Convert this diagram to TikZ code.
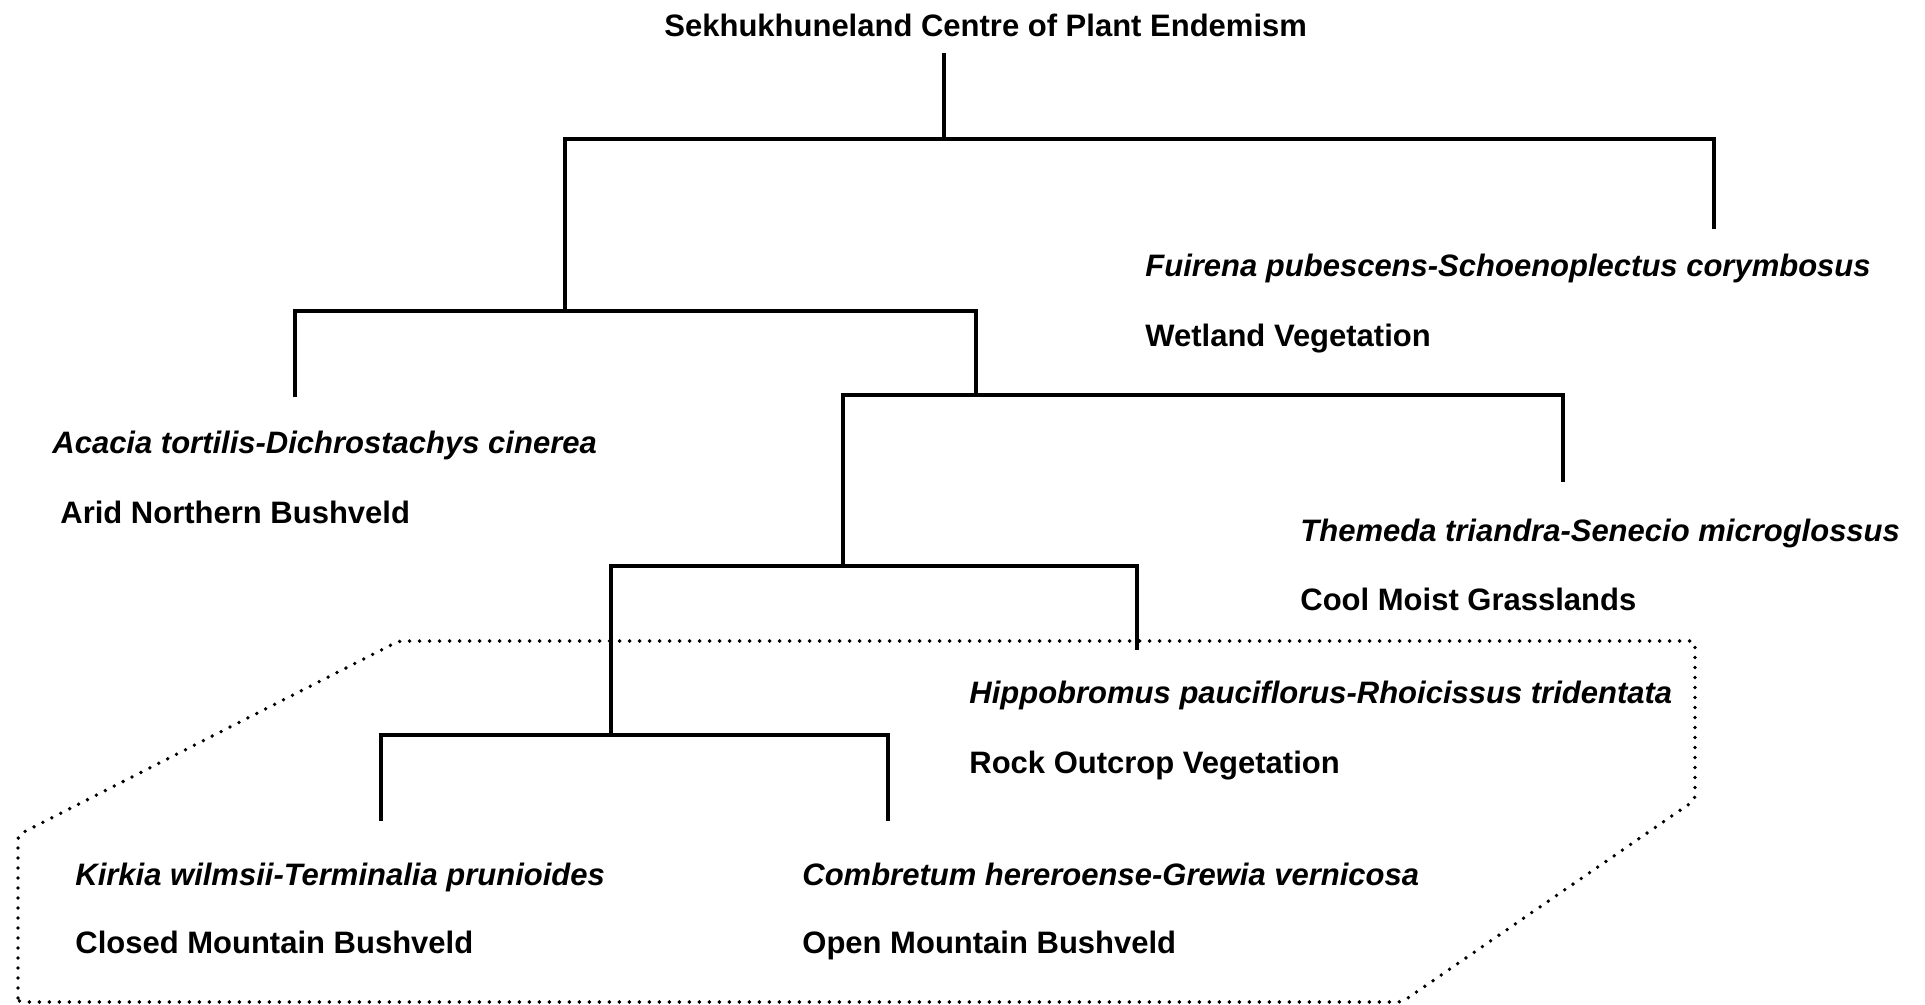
\documentclass[tikz,border=0pt]{standalone}
\usepackage{fontspec}
\setmainfont{Liberation Sans}
\begin{document}
\begin{tikzpicture}[x=0.5pt,y=-0.5pt,
  lbl/.style={anchor=base west,inner sep=0pt,font=\fontsize{15.5}{18}\selectfont\bfseries},
  sp/.style={lbl,font=\fontsize{15.5}{18}\selectfont\bfseries\itshape},
  tree/.style={line width=1.7pt,line cap=rect},
  zone/.style={line width=1.9pt,line cap=round,dash pattern=on 0pt off 5pt,rounded corners=2pt}]
\useasboundingbox (0,0) rectangle (1925,1005);
% labels
\node[lbl] (title) at (664,37) {Sekhukhuneland Centre of Plant Endemism};
\node[sp]  (fui)  at (1145,277) {Fuirena pubescens-Schoenoplectus corymbosus};
\node[lbl] (wet)  at (1145,347) {Wetland Vegetation};
\node[sp]  (aca)  at (52,453) {Acacia tortilis-Dichrostachys cinerea};
\node[lbl] (arid) at (60,523) {Arid Northern Bushveld};
\node[sp]  (the)  at (1300,541) {Themeda triandra-Senecio microglossus};
\node[lbl] (cool) at (1300,610) {Cool Moist Grasslands};
\node[sp]  (hip)  at (969,703) {Hippobromus pauciflorus-Rhoicissus tridentata};
\node[lbl] (rock) at (969,773) {Rock Outcrop Vegetation};
\node[sp]  (kir)  at (75,885) {Kirkia wilmsii-Terminalia prunioides};
\node[lbl] (clo)  at (75,953) {Closed Mountain Bushveld};
\node[sp]  (com)  at (802,885) {Combretum hereroense-Grewia vernicosa};
\node[lbl] (opn)  at (802,953) {Open Mountain Bushveld};
% tree coordinates
\coordinate (r0) at (944,55);
\coordinate (r1) at (944,139);
\coordinate (a1) at (565,139);
\coordinate (b1) at (1714,139);
\coordinate (wtop) at (1714,227);
\coordinate (a2) at (565,311);
\coordinate (l2) at (295,311);
\coordinate (r2) at (976,311);
\coordinate (atop) at (295,395);
\coordinate (c3) at (976,395);
\coordinate (l3) at (843,395);
\coordinate (r3) at (1563,395);
\coordinate (ttop) at (1563,480);
\coordinate (c4) at (843,566);
\coordinate (l4) at (611,566);
\coordinate (r4) at (1137,566);
\coordinate (htop) at (1137,648);
\coordinate (c5) at (611,735);
\coordinate (l5) at (381,735);
\coordinate (r5) at (888,735);
\coordinate (ktop) at (381,819);
\coordinate (ctop) at (888,819);
% tree
\draw[tree] (r0) -- (r1);
\draw[tree] (a2) -- (a1) -- (b1) -- (wtop);
\draw[tree] (atop) -- (l2) -- (r2) -- (c3);
\draw[tree] (c4) -- (l3) -- (r3) -- (ttop);
\draw[tree] (c5) -- (l4) -- (r4) -- (htop);
\draw[tree] (ktop) -- (l5) -- (r5) -- (ctop);
% dotted zone
\draw[zone] (18,1002) -- (18,835) -- (399,641) -- (1695,641) -- (1695,800) -- (1402,1002) -- cycle;
\end{tikzpicture}
\end{document}
